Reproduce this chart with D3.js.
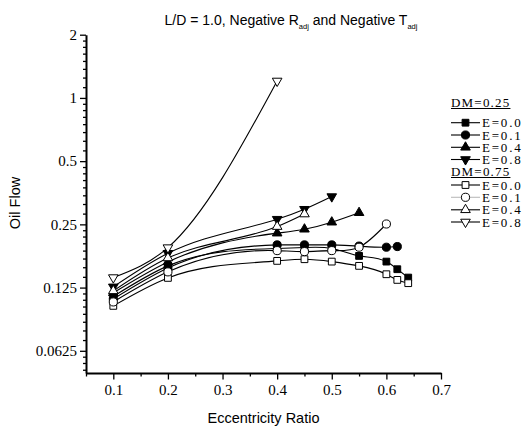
<!DOCTYPE html>
<html>
<head>
<meta charset="utf-8">
<script src="https://cdn.jsdelivr.net/npm/d3@7"></script>
<style>
  body { margin: 0; background: #fff; }
  svg { display: block; }
  text { fill: #000; }
  .tick text { font-family: "Liberation Serif", "Times New Roman", serif; font-size: 15px; fill: #000; }
  .axis path, .axis line { stroke: #000; }
</style>
</head>
<body>
<svg id="chart" width="531" height="432"></svg>
<script>
// eccentricity ratios and oil flow values
var eccFull = [0.1, 0.2, 0.4, 0.45, 0.5, 0.55, 0.6, 0.62, 0.64];

var dm25e00 = [0.1135, 0.1586, 0.192, 0.194, 0.192, 0.1769, 0.1662, 0.1529, 0.1395];
var dm25e01 = [0.1104, 0.155, 0.1996, 0.1996, 0.1996, 0.197, 0.1946, 0.196];
var dm25e04 = [0.118, 0.1656, 0.227, 0.237, 0.256, 0.284];
var dm25e08 = [0.126, 0.182, 0.2645, 0.295, 0.339];

var dm75e00 = [0.1023, 0.139, 0.1675, 0.1706, 0.1662, 0.1586, 0.1447, 0.136, 0.1312];
var dm75e01 = [0.1068, 0.1485, 0.1875, 0.1855, 0.1875, 0.1946, 0.251];
var dm75e04 = [0.1206, 0.173, 0.244, 0.28];
var dm75e08 = [0.1395, 0.1937, 1.204];

var xMajor = [0.1, 0.2, 0.3, 0.4, 0.5, 0.6, 0.7];
var xMinor = [0.05, 0.15, 0.25, 0.35, 0.45, 0.55, 0.65];
var yMajor = [2, 1, 0.5, 0.25, 0.125, 0.0625];
var yLabels = ["2", "1", "0.5", "0.25", "0.125", "0.0625"];

var series = [
    {name: "E=0.0", group: "DM=0.25", vals: dm25e00, sym: "square", fill: "#000"},
    {name: "E=0.1", group: "DM=0.25", vals: dm25e01, sym: "circle", fill: "#000"},
    {name: "E=0.4", group: "DM=0.25", vals: dm25e04, sym: "up", fill: "#000"},
    {name: "E=0.8", group: "DM=0.25", vals: dm25e08, sym: "down", fill: "#000"},
    {name: "E=0.0", group: "DM=0.75", vals: dm75e00, sym: "square", fill: "#fff"},
    {name: "E=0.1", group: "DM=0.75", vals: dm75e01, sym: "circle", fill: "#fff", legendLine: "#bbb"},
    {name: "E=0.4", group: "DM=0.75", vals: dm75e04, sym: "up", fill: "#fff"},
    {name: "E=0.8", group: "DM=0.75", vals: dm75e08, sym: "down", fill: "#fff"}
];

var svg = d3.select("#chart");

var xScale = d3.scaleLinear().domain([0.05, 0.7]).range([86, 441]);
var yScale = d3.scaleLog().base(2).domain([0.049, 2]).range([373, 34.7]);

// natural cubic spline as a function of x (like the "spline" connect of the original)
function curveSplineX(context) {
    var xs, ys;
    return {
        areaStart: function () {},
        areaEnd: function () {},
        lineStart: function () { xs = []; ys = []; },
        point: function (x, y) { xs.push(+x); ys.push(+y); },
        lineEnd: function () {
            var n = xs.length;
            if (n === 0) return;
            context.moveTo(xs[0], ys[0]);
            if (n < 3) {
                for (var j = 1; j < n; j++) context.lineTo(xs[j], ys[j]);
                return;
            }
            var h = [], i;
            for (i = 0; i < n - 1; i++) h.push(xs[i + 1] - xs[i]);
            // tridiagonal solve for second derivatives, natural ends
            var M = new Array(n).fill(0), c = new Array(n).fill(0), r = new Array(n).fill(0);
            for (i = 1; i < n - 1; i++) {
                var a = h[i - 1], b = 2 * (h[i - 1] + h[i]), cc = h[i];
                var d = 6 * ((ys[i + 1] - ys[i]) / h[i] - (ys[i] - ys[i - 1]) / h[i - 1]);
                var den = b - a * c[i - 1];
                c[i] = cc / den;
                r[i] = (d - a * r[i - 1]) / den;
            }
            for (i = n - 2; i >= 1; i--) M[i] = r[i] - c[i] * M[i + 1];
            for (i = 0; i < n - 1; i++) {
                var s = (ys[i + 1] - ys[i]) / h[i];
                var d0 = s - h[i] * (2 * M[i] + M[i + 1]) / 6;
                var d1 = s + h[i] * (M[i] + 2 * M[i + 1]) / 6;
                context.bezierCurveTo(
                    xs[i] + h[i] / 3, ys[i] + d0 * h[i] / 3,
                    xs[i + 1] - h[i] / 3, ys[i + 1] - d1 * h[i] / 3,
                    xs[i + 1], ys[i + 1]);
            }
        }
    };
}

// y minor ticks: linear steps of 1/8 inside each octave
var yMinor = [];
for (var v = 0.03125; v < 2; v *= 2) {
    for (var k = 1; k < 8; k++) {
        var t = v * (1 + k / 8);
        if (t >= 0.049 && t <= 2) yMinor.push(t);
    }
}

svg.append("g").attr("class", "axis")
    .attr("transform", "translate(86,0)")
    .call(d3.axisLeft(yScale).tickValues(yMinor).tickSize(3).tickSizeOuter(0).tickFormat(""))
    .call(function (g) { g.select(".domain").remove(); })
    .selectAll("line").attr("stroke-width", 1.3);

svg.append("g").attr("class", "axis")
    .attr("transform", "translate(86,0)")
    .call(d3.axisLeft(yScale).tickValues(yMajor).tickSize(6).tickSizeOuter(0)
        .tickFormat(function (d, i) { return yLabels[i]; }))
    .call(function (g) {
        g.select(".domain").attr("stroke-width", 2);
        g.selectAll("line").attr("stroke-width", 1.3);
        g.selectAll("text").attr("x", -9);
    });

svg.append("g").attr("class", "axis")
    .attr("transform", "translate(0,373)")
    .call(d3.axisBottom(xScale).tickValues(xMinor).tickSize(3.5).tickSizeOuter(0).tickFormat(""))
    .call(function (g) { g.select(".domain").remove(); })
    .selectAll("line").attr("stroke-width", 1.3);

svg.append("g").attr("class", "axis")
    .attr("transform", "translate(0,373)")
    .call(d3.axisBottom(xScale).tickValues(xMajor).tickSize(6.5).tickSizeOuter(0)
        .tickFormat(d3.format(".1f")))
    .call(function (g) {
        g.select(".domain").attr("stroke-width", 2);
        g.selectAll("line").attr("stroke-width", 1.3);
        g.selectAll("text").attr("y", 11);
    });

// titles
var title = svg.append("text")
    .attr("x", 291).attr("y", 25)
    .attr("text-anchor", "middle")
    .style("font-family", "'Liberation Sans', Arial, sans-serif")
    .style("font-size", "14px");
title.append("tspan").text("L/D = 1.0, Negative R");
title.append("tspan").attr("dy", 4).style("font-size", "7.5px").text("adj");
title.append("tspan").attr("dy", -4).text(" and Negative T");
title.append("tspan").attr("dy", 4).style("font-size", "7.5px").text("adj");

svg.append("text")
    .attr("x", 263.5).attr("y", 423)
    .attr("text-anchor", "middle")
    .style("font-family", "'Liberation Sans', Arial, sans-serif")
    .style("font-size", "14.5px")
    .text("Eccentricity Ratio");

svg.append("text")
    .attr("transform", "translate(20,203) rotate(-90)")
    .attr("text-anchor", "middle")
    .style("font-family", "'Liberation Sans', Arial, sans-serif")
    .style("font-size", "14.5px")
    .text("Oil Flow");

function symbolPath(sym) {
    if (sym === "square") return d3.symbol(d3.symbolSquare, 46)();
    if (sym === "circle") return d3.symbol(d3.symbolCircle, 52)();
    return d3.symbol(d3.symbolTriangle, 40)();
}

var line = d3.line()
    .x(function (d) { return xScale(d[0]); })
    .y(function (d) { return yScale(d[1]); })
    .curve(curveSplineX);

series.forEach(function (s) {
    var pts = s.vals.map(function (v, i) { return [eccFull[i], v]; });
    svg.append("path")
        .datum(pts)
        .attr("fill", "none")
        .attr("stroke", "#000")
        .attr("stroke-width", 1.1)
        .attr("d", line);
});

series.forEach(function (s) {
    var pts = s.vals.map(function (v, i) { return [eccFull[i], v]; });
    svg.selectAll(null)
        .data(pts)
        .enter()
        .append("path")
        .attr("d", symbolPath(s.sym))
        .attr("transform", function (d) {
            return "translate(" + xScale(d[0]) + "," + yScale(d[1]) + ")" + (s.sym === "down" ? " rotate(180)" : "");
        })
        .attr("fill", s.fill)
        .attr("stroke", "#000")
        .attr("stroke-width", 1);
});

// legend
var legendRows = [122.7, 135, 147.3, 159.5, 185, 197.3, 209.8, 222];
var legendHeads = [{text: "DM=0.25", y: 107}, {text: "DM=0.75", y: 176}];
var legendFont = "'Liberation Serif', 'Times New Roman', serif";

legendHeads.forEach(function (h) {
    var t = svg.append("text")
        .attr("x", 451).attr("y", h.y)
        .style("font-family", legendFont)
        .style("font-size", "13px")
        .attr("letter-spacing", 1.2)
        .text(h.text);
    var w = t.node().getComputedTextLength();
    svg.append("line")
        .attr("x1", 451).attr("x2", 451 + w)
        .attr("y1", h.y + 1.5).attr("y2", h.y + 1.5)
        .attr("stroke", "#000").attr("stroke-width", 1);
});

series.forEach(function (s, i) {
    var yy = legendRows[i];
    svg.append("line")
        .attr("x1", 451).attr("x2", 480)
        .attr("y1", yy).attr("y2", yy)
        .attr("stroke", s.legendLine || "#000")
        .attr("stroke-width", 1.1);
    svg.append("path")
        .attr("d", symbolPath(s.sym))
        .attr("transform", "translate(465.5," + yy + ")" + (s.sym === "down" ? " rotate(180)" : ""))
        .attr("fill", s.fill)
        .attr("stroke", "#000")
        .attr("stroke-width", 1);
    svg.append("text")
        .attr("x", 482).attr("y", yy + 4.5)
        .style("font-family", legendFont)
        .style("font-size", "13px")
        .attr("letter-spacing", 1.8)
        .text(s.name);
});
</script>
</body>
</html>
